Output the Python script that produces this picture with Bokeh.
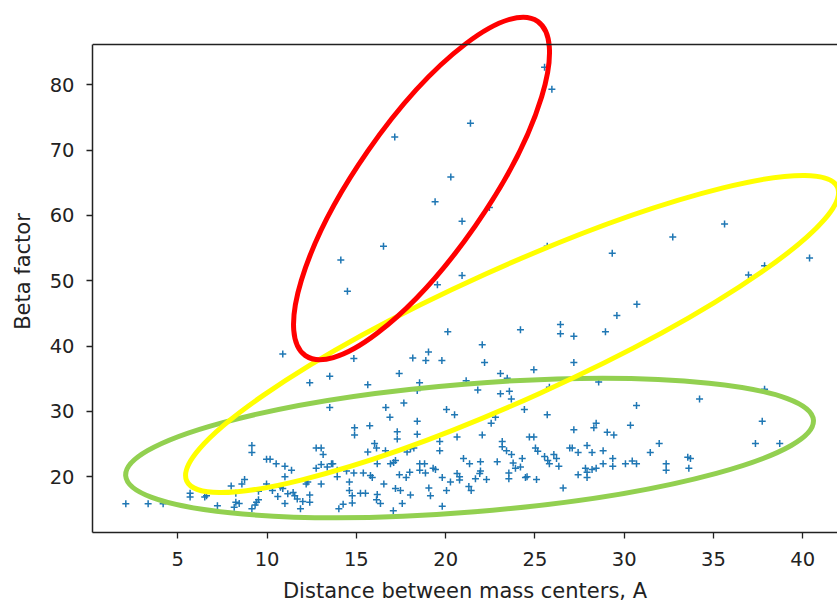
from bokeh.plotting import figure
from bokeh.models import Range1d, FixedTicker, Span, ColumnDataSource
from bokeh.embed import file_html
from bokeh.resources import INLINE

# ---- data ----
distance = [
    2.09, 3.34, 4.18, 5.69, 5.69, 6.51, 6.61, 7.22, 7.99, 8.16, 8.25, 8.44, 8.25, 8.59, 8.74,
    9.15, 9.15, 9.15, 9.33, 9.41, 9.52, 9.52, 9.97, 9.97, 10.17, 10.30,
    10.88, 20.12, 14.86, 12.39, 13.51, 15.64, 17.40, 18.16, 18.89, 19.04, 19.79, 18.54, 18.41,
    13.51, 16.65, 17.66, 16.88, 20.05, 18.41, 15.75, 14.90, 14.90, 17.29, 17.29, 18.41, 19.67, 19.67,
    12.75, 13.03, 13.14, 16.02, 16.13, 15.64, 16.63, 17.84, 18.03, 18.22,
    10.51, 11.00, 11.37, 11.00, 12.75, 13.03, 13.61, 13.68, 13.37, 13.93, 14.45, 14.86, 13.93,
    13.03, 12.19, 12.28, 10.75, 10.88, 11.16, 11.46, 11.55, 10.60, 11.69, 12.00, 12.39, 12.39,
    11.00, 11.87, 14.61, 14.61, 15.39, 15.79, 15.89, 16.17, 16.54, 16.91, 17.09, 17.19, 17.41,
    17.79, 17.99, 18.55, 18.87, 18.55, 18.82, 19.30, 19.43, 19.81, 20.05, 19.06, 19.15, 18.03,
    17.19, 17.47, 17.57, 17.07, 16.17, 16.13, 16.35, 15.23, 15.51, 14.77, 14.77, 14.26, 14.02, 19.81,
    24.19, 26.43, 26.43, 27.18, 28.95, 22.05, 22.18, 24.94, 27.18, 23.07, 23.45, 21.15, 21.80,
    23.07, 23.57, 23.68, 25.81, 28.57, 24.41, 25.69, 20.50, 22.79, 22.55, 20.64, 22.05, 24.69,
    24.94, 27.18, 28.30, 28.43, 29.05, 29.42, 30.35, 23.17, 23.17, 23.41, 23.69, 25.03, 25.16,
    24.29, 26.95, 27.09, 27.42, 27.92, 28.20, 28.82, 25.54, 25.72, 25.81, 26.06, 26.21, 26.34,
    21.00, 21.34, 21.95, 21.95, 21.91, 22.89, 23.78, 23.91, 24.19, 23.54, 23.54, 20.64, 20.78,
    20.78, 20.27, 21.67, 22.29, 21.30, 21.43, 24.47, 24.56, 25.09, 26.58, 27.42, 27.83, 27.92,
    27.92, 28.20, 28.43, 28.82, 29.36, 29.36, 30.07,
    30.69, 34.22, 37.86, 37.73, 31.96, 31.46, 30.45, 30.69, 32.35, 32.35, 33.56, 33.71, 33.62,
    37.35, 38.71,
    25.54, 25.95, 21.39, 25.69, 29.33, 32.72, 35.62, 40.38, 36.96, 37.86, 30.71, 29.59, 20.92,
    20.92, 22.45, 20.29, 19.41, 19.54, 17.15, 16.52, 14.13, 14.50,
]
beta = [
    15.87, 15.87, 15.87, 17.5, 16.9, 16.9, 17.1, 15.56, 18.6, 15.35, 16.1, 15.9, 17.5, 18.9, 19.6,
    24.8, 23.7, 15.1, 15.7, 16.1, 16.5, 17.8, 18.9, 22.7, 22.7, 17.9,
    38.8, 42.2, 38.1, 34.4, 35.4, 34.1, 35.8, 38.2, 37.8, 39.1, 37.8, 34.4, 33.2,
    30.6, 30.6, 31.3, 29.1, 30.3, 28.5, 27.8, 27.5, 26.4, 26.9, 25.8, 26.5, 25.4, 24.0,
    24.4, 24.4, 23.4, 25.1, 24.4, 23.8, 24.0, 23.8, 24.3, 24.4,
    22.0, 21.6, 21.0, 20.0, 21.3, 21.9, 22.0, 22.0, 21.5, 21.0, 20.9, 20.6, 20.0,
    18.9, 18.9, 19.2, 18.4, 18.2, 17.4, 17.6, 17.1, 17.0, 16.6, 16.2, 17.2, 16.1,
    15.9, 15.1, 19.2, 17.9, 20.6, 20.2, 19.9, 22.0, 18.9, 22.0, 22.2, 22.5, 20.3,
    19.9, 20.7, 21.0, 20.6, 22.0, 22.0, 21.3, 21.1, 19.9, 17.9, 18.3, 17.1, 17.2,
    18.2, 17.9, 15.9, 14.8, 17.3, 16.5, 15.9, 17.5, 17.5, 17.1, 16.0, 15.8, 15.1, 15.5,
    42.5, 43.3, 41.9, 41.5, 42.2, 40.2, 37.5, 36.4, 37.5, 35.8, 35.1, 34.7, 33.3,
    32.7, 33.1, 31.9, 33.7, 34.5, 30.3, 29.5, 29.5, 29.1, 28.2, 26.1, 26.4, 26.1,
    26.1, 27.2, 27.5, 28.2, 26.8, 26.4, 27.9, 25.4, 24.6, 24.0, 23.4, 24.4, 23.9,
    22.8, 24.4, 24.4, 23.7, 24.8, 23.7, 24.0, 23.1, 22.5, 22.0, 23.4, 22.8, 21.6,
    22.8, 22.0, 22.3, 20.9, 20.5, 22.3, 22.1, 21.3, 21.5, 20.6, 19.7, 20.5, 20.0,
    19.5, 19.2, 19.7, 19.6, 18.5, 17.9, 19.9, 20.0, 19.6, 18.3, 20.3, 21.3, 20.7,
    19.9, 21.1, 21.3, 22.0, 22.8, 21.6, 22.0,
    30.9, 31.9, 33.4, 28.5, 25.1, 23.7, 22.4, 22.0, 22.0, 21.0, 23.0, 22.8, 21.3,
    25.1, 25.1,
    82.7, 79.3, 74.1, 55.3, 54.2, 56.7, 58.7, 53.5, 50.9, 52.3, 46.4, 44.7, 59.1,
    50.8, 61.2, 65.9, 62.1, 49.4, 72.0, 55.3, 53.2, 48.4,
]
x_ticks = [5, 10, 15, 20, 25, 30, 35, 40]
y_ticks = [20, 30, 40, 50, 60, 70, 80]
x_label = "Distance between mass centers, A"
y_label = "Beta factor"

# hand-drawn highlight ellipses: centre (data), size (screen px), angle (deg)
ell_names = ["green", "yellow", "red"]
ell_cx = [21.34, 23.72, 18.65]
ell_cy = [24.41, 41.86, 64.13]
ell_w = [690, 714, 407]
ell_h = [128, 131, 131]
ell_angle = [4.64, 24.3, 55.2]
ell_color = ["#92d050", "#ffff00", "#ff0000"]

# ---- view ----
X_MIN, X_MAX = 0.224, 41.945
Y_MIN, Y_MAX = 11.474, 91.37
Y_TOP_SPINE = 86.17

p = figure(frame_width=745, frame_height=522,
           x_range=Range1d(X_MIN, X_MAX), y_range=Range1d(Y_MIN, Y_MAX),
           output_backend="svg", toolbar_location=None,
           min_border_left=92, min_border_right=0, min_border_top=10, min_border_bottom=0)
p.outline_line_color = None
p.xgrid.visible = False
p.ygrid.visible = False
p.background_fill_color = "white"
p.border_fill_color = "white"

src = ColumnDataSource(dict(x=distance, y=beta))
p.scatter("x", "y", source=src, marker="cross", size=7, line_color="#1f77b4", line_width=1.5)

for cx, cy, w, h, a, c in zip(ell_cx, ell_cy, ell_w, ell_h, ell_angle, ell_color):
    p.ellipse(x=cx, y=cy, width=w, height=h, angle=a, width_units="screen", height_units="screen",
              angle_units="deg", fill_color=None, line_color=c, line_width=5)

p.add_layout(Span(location=Y_TOP_SPINE, dimension="width", line_color="#222222", line_width=1.5))

for ax, ticks, lab in ((p.xaxis[0], x_ticks, x_label), (p.yaxis[0], y_ticks, y_label)):
    ax.ticker = FixedTicker(ticks=ticks)
    ax.minor_tick_line_color = None
    ax.major_tick_in = 0
    ax.major_tick_out = 6
    ax.major_tick_line_color = "#222222"
    ax.major_tick_line_width = 1.3
    ax.axis_line_color = "#222222"
    ax.axis_line_width = 1.5
    ax.major_label_text_font = "DejaVu Sans"
    ax.major_label_text_font_size = "19.5px"
    ax.major_label_text_color = "#222222"
    ax.axis_label = lab
    ax.axis_label_text_font = "DejaVu Sans"
    ax.axis_label_text_font_size = "21px"
    ax.axis_label_text_font_style = "normal"
    ax.axis_label_text_color = "#222222"

p.yaxis[0].bounds = (Y_MIN, Y_TOP_SPINE)
p.yaxis[0].major_label_standoff = 12
p.yaxis[0].axis_label_standoff = 12
p.xaxis[0].major_label_standoff = 13
p.xaxis[0].axis_label_standoff = 10

html = file_html(p, INLINE)
html = html.replace("<head>", "<head><style>html,body{margin:0;padding:0;}</style>", 1)
open("out.html", "w").write(html)
